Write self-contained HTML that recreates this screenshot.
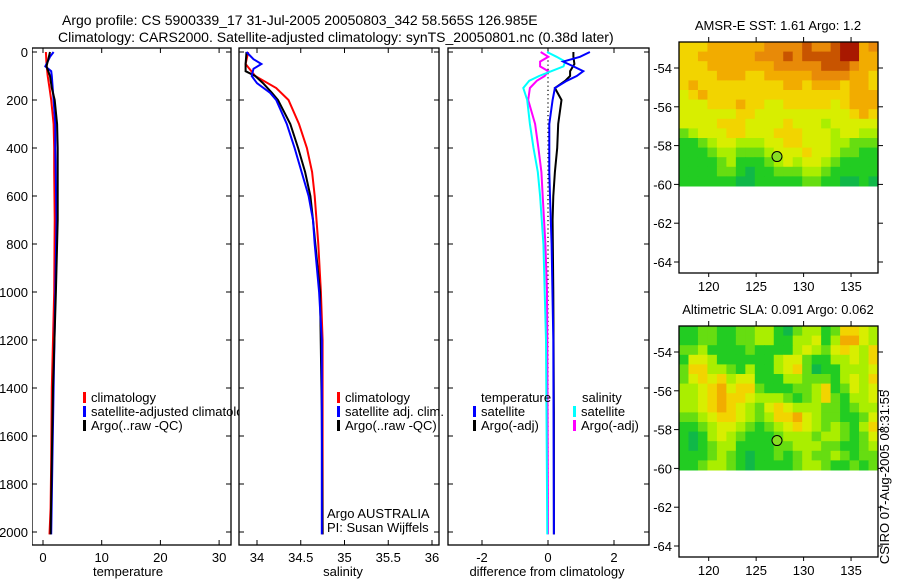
<!DOCTYPE html>
<html><head><meta charset="utf-8"><style>
html,body{margin:0;padding:0;background:#fff;}
svg{display:block;font-family:"Liberation Sans",sans-serif;}
text{fill:#000;}
</style></head><body>
<svg id="chart" width="900" height="580" viewBox="0 0 900 580">
<defs><clipPath id="clip1"><rect x="32" y="40" width="207" height="520"/></clipPath></defs>
<text x="62" y="25" font-size="14">Argo profile: CS 5900339_17 31-Jul-2005 20050803_342 58.565S 126.985E</text>
<text x="58" y="42" font-size="14">Climatology: CARS2000. Satellite-adjusted climatology: synTS_20050801.nc (0.38d later)</text>
<g id="g1" clip-path="url(#clip1)"></g>
<g id="g2"></g>
<g id="g3"></g>
<g id="m1"></g>
<g id="m2"></g>
<text transform="translate(889,477) rotate(-90)" text-anchor="middle" font-size="13">CSIRO 07-Aug-2005 08:31:55</text>
</svg>
<script>
// ---- profile data (depth in m) ----
const tClimD = [0,50,100,150,200,300,400,500,700,1000,1200,1400,1700,1900,2010];
const tClimV = [0.5,0.6,0.8,1.1,1.4,1.8,1.9,1.9,2.0,1.9,1.7,1.5,1.4,1.3,1.1];
const tSatD = [0,20,40,60,80,100,200,300,400,700,1000,1400,1700,2010];
const tSatV = [1.8,1.2,0.8,0.4,1.4,1.5,1.8,2.1,2.1,2.3,2.1,1.8,1.6,1.4];
const tArgoD = [0,30,60,100,150,200,300,400,700,1000,1400,1700,2010];
const tArgoV = [1.2,0.9,0.6,1.2,1.5,2.0,2.4,2.5,2.5,2.2,1.7,1.5,1.3];

const sClimD = [0,50,100,150,200,300,400,500,600,700,800,1000,1200,2010];
const sClimV = [33.90,33.87,33.98,34.22,34.36,34.48,34.57,34.63,34.66,34.68,34.70,34.73,34.75,34.75];
const sSatD = [0,30,50,70,100,130,170,200,300,400,500,600,700,800,1000,1200,2010];
const sSatV = [33.88,33.96,34.05,33.96,33.94,34.00,34.15,34.22,34.34,34.43,34.51,34.59,34.64,34.66,34.71,34.74,34.74];
const sArgoD = [0,50,80,100,130,170,200,300,400,500,600,700,1000,1500,2010];
const sArgoV = [33.88,33.87,33.87,33.98,34.07,34.17,34.24,34.38,34.47,34.55,34.61,34.64,34.72,34.74,34.75];

const dTArgoD = [0,20,50,80,100,120,150,200,300,400,500,600,700,1000,1500,2010];
const dTArgoV = [0.77,0.77,0.80,0.67,0.67,0.52,0.21,0.41,0.31,0.28,0.21,0.16,0.14,0.16,0.18,0.18];
const dTSatD = [0,20,40,60,80,100,120,150,200,300,500,600,800,1200,2010];
const dTSatV = [1.27,0.97,0.46,0.77,1.07,0.87,0.57,0.21,0.14,0.04,0.04,0.06,0.11,0.16,0.18];
const dSArgoD = [0,20,40,60,80,100,120,150,200,300,400,500,600,800,1000,1200,2010];
const dSArgoV = [-0.22,0.01,-0.24,-0.24,0.01,-0.10,-0.34,-0.55,-0.60,-0.39,-0.29,-0.20,-0.16,-0.08,-0.03,-0.02,0.0];
const dSSatD = [0,20,40,60,80,100,120,150,200,300,400,500,600,800,1000,1200,2010];
const dSSatV = [-0.03,0.26,0.52,0.47,0.10,-0.27,-0.57,-0.75,-0.63,-0.55,-0.44,-0.31,-0.24,-0.14,-0.10,-0.06,-0.02];

const depthTicks = [0,200,400,600,800,1000,1200,1400,1600,1800,2000];
const tTicks = [0,10,20,30];
const sTicks = [34,34.5,35,35.5,36];
const sTickLabels = ["34","34.5","35","35.5","36"];
const dTicks = [-2,0,2];

// ---- map data (digit levels, rows from -52.7 to -60.1, cols 117..137) ----
const sstRows = [
"555666666777787789967","556666667778788889966","555666666677777888766",
"555566655666667777665","565555555556656665665","456555555555555555666",
"444555655445555545666","444444554444444444565","444455544445444344444",
"234445544455544434433","112344333445544433222","111233222344454432211",
"111123111234344321111","111122101122233211111","111111001111122110010"];
const slaRows = [
"112211223310233125543","112211223311334136643","223111121111343245435",
"144311111134421133435","255332131134520113334","245453441113322213435",
"334564552111223512434","334565543332123521334","334565432454333221233",
"223455432355643221124","112344321234543232135","101343211123332332124",
"101233111122333221123","111232101121232232122","112332101111233211212"];
const lonTicks = [120,125,130,135];
const latTicks = [-54,-56,-58,-60,-62,-64];
const floatLon = 126.985, floatLat = -58.565;

const NS = "http://www.w3.org/2000/svg";
function mk(parent, tag, attrs, txt){const e=document.createElementNS(NS,tag);for(const k in attrs)e.setAttribute(k,attrs[k]);if(txt!==undefined)e.textContent=txt;parent.appendChild(e);return e;}
const yD = d => 52 + d*0.24;
const TOP=48, BOT=545;

function panel(g, x0, x1, xs, ticks, labels, xlabel, xlabelX, nameP){
  const r = mk(g,'rect',{x:x0,y:TOP,width:x1-x0,height:BOT-TOP,fill:'none',stroke:'#000','stroke-width':1.3});
  
  
  depthTicks.forEach(d=>{
    const y=yD(d);
    mk(g,'line',{x1:x0,y1:y,x2:x0+5,y2:y,stroke:'#000'});
    mk(g,'line',{x1:x1-5,y1:y,x2:x1,y2:y,stroke:'#000'});
  });
  ticks.forEach((t,i)=>{
    const x=xs(t);
    mk(g,'line',{x1:x,y1:TOP,x2:x,y2:TOP+5,stroke:'#000'});
    mk(g,'line',{x1:x,y1:BOT-5,x2:x,y2:BOT,stroke:'#000'});
    const tl = mk(g.parentNode===null?g:document.getElementById('chart'),'text',{x:x,y:562,'font-size':13,'text-anchor':'middle'},labels[i]);
    
    
  });
  const xl = mk(document.getElementById('chart'),'text',{x:xlabelX,y:576,'font-size':13,'text-anchor':'middle'},xlabel);
  
  
}
function line(g, D, V, xs, color, name, w){
  const pts = D.map((d,i)=>xs(V[i]).toFixed(1)+','+yD(d).toFixed(1)).join(' ');
  const p = mk(g,'polyline',{points:pts,fill:'none',stroke:color,'stroke-width':w||2,'stroke-linejoin':'miter'});
  
  
}
function legend(g, x, y, color, label, name){
  mk(g,'rect',{x:x,y:y-10,width:3,height:11,fill:color});
  const t = mk(g,'text',{x:x+8,y:y,'font-size':13},label);
  
  
}

const chart = document.getElementById('chart');
// y tick labels
depthTicks.forEach(d=>{
  const t = mk(chart,'text',{x:28,y:yD(d)+5,'font-size':13,'text-anchor':'end'},String(d));
  
  
});

// panel 1
const g1=document.getElementById('g1');
const xT = t => 43 + t*5.87;
panel(g1,32,231,xT,tTicks,tTicks.map(String),'temperature',128,'temperature');
line(g1,tClimD,tClimV,xT,'#ff0000','temp-climatology-line');
line(g1,tSatD,tSatV,xT,'#0000ff','temp-satellite-line');
line(g1,tArgoD,tArgoV,xT,'#000000','temp-argo-line');
legend(g1,83,402,'#ff0000','climatology','legend-climatology');
legend(g1,83,416,'#0000ff','satellite-adjusted climatology','legend-satellite-adjusted');
legend(g1,83,430,'#000000','Argo(..raw -QC)','legend-argo');

// panel 2
const g2=document.getElementById('g2');
const xS = s => 257 + (s-34)*87.5;
panel(g2,239,439,xS,sTicks,sTickLabels,'salinity',343,'salinity');
line(g2,sClimD,sClimV,xS,'#ff0000','sal-climatology-line');
line(g2,sArgoD,sArgoV,xS,'#000000','sal-argo-line');
line(g2,sSatD,sSatV,xS,'#0000ff','sal-satellite-line');
legend(g2,337,402,'#ff0000','climatology','legend-climatology');
legend(g2,337,416,'#0000ff','satellite adj. clim.','legend-satellite-adj');
legend(g2,337,430,'#000000','Argo(..raw -QC)','legend-argo');
mk(g2,'text',{x:327,y:518,'font-size':13},'Argo AUSTRALIA');
mk(g2,'text',{x:327,y:532,'font-size':13},'PI: Susan Wijffels');

// panel 3
const g3=document.getElementById('g3');
const xDf = v => 548 + v*33;
panel(g3,448,649,xDf,dTicks,dTicks.map(String),'difference from climatology',547,'difference');
mk(g3,'line',{x1:xDf(0),y1:yD(0),x2:xDf(0),y2:yD(2010),stroke:'#000','stroke-width':1.2,'stroke-dasharray':'1.2,3'});
line(g3,dSArgoD,dSArgoV,xDf,'#ff00ff','dsal-argo-line');
line(g3,dSSatD,dSSatV,xDf,'#00ffff','dsal-satellite-line');
line(g3,dTArgoD,dTArgoV,xDf,'#000000','dtemp-argo-line');
line(g3,dTSatD,dTSatV,xDf,'#0000ff','dtemp-satellite-line');
mk(g3,'text',{x:481,y:402,'font-size':13},'temperature');
mk(g3,'text',{x:582,y:402,'font-size':13},'salinity');
legend(g3,473,416,'#0000ff','satellite','legend-temp-satellite');
legend(g3,473,430,'#000000','Argo(-adj)','legend-temp-argo');
legend(g3,573,416,'#00ffff','satellite','legend-sal-satellite');
legend(g3,573,430,'#ff00ff','Argo(-adj)','legend-sal-argo');

// maps
const cmap = ['#10b848','#22cc22','#66dd11','#aaee00','#d8ee00','#f2d400','#f2ac00','#e88a08','#c85400','#a81800'];
function drawMap(g, rows, oy, title){
  const L=679, R=878, T=42+oy, B=273+oy, dataB=186+oy;
  const xL = lon => 708.7 + (lon-120)*9.49;
  const yL = lat => 68+oy + (-54-lat)*19.4;
  const nr=rows.length, nc=rows[0].length;
  const cw=(R-L)/nc, ch=(dataB-T)/nr;
  rows.forEach((row,r)=>{
    for(let c=0;c<nc;c++){
      const cell = mk(g,'rect',{x:(L+c*cw).toFixed(2),y:(T+r*ch).toFixed(2),width:(cw+0.5).toFixed(2),height:(ch+0.5).toFixed(2),fill:cmap[+row[c]]});
      
      
    }
  });
  const f=mk(g,'rect',{x:L,y:T,width:R-L,height:B-T,fill:'none',stroke:'#000','stroke-width':1.3});
  
  
  lonTicks.forEach(lon=>{
    const x=xL(lon);
    mk(g,'line',{x1:x,y1:T,x2:x,y2:T-5,stroke:'#000'});
    mk(g,'line',{x1:x,y1:B,x2:x,y2:B+4,stroke:'#000'});
    const t=mk(g,'text',{x:x,y:B+18,'font-size':13,'text-anchor':'middle'},String(lon));
    
    
  });
  latTicks.forEach(lat=>{
    const y=yL(lat);
    mk(g,'line',{x1:L-5,y1:y,x2:L,y2:y,stroke:'#000'});
    mk(g,'line',{x1:R,y1:y,x2:R+5,y2:y,stroke:'#000'});
    const t=mk(g,'text',{x:672,y:y+5,'font-size':13,'text-anchor':'end'},String(lat));
    
    
  });
  const c=mk(g,'circle',{cx:xL(floatLon)+2,cy:yL(floatLat),r:5,fill:'#88dd22',stroke:'#000','stroke-width':1});
  
  
  const tt=mk(g,'text',{x:778,y:T-12,'font-size':13,'text-anchor':'middle'},title);
  
  
}
drawMap(document.getElementById('m1'), sstRows, 0, 'AMSR-E SST: 1.61 Argo: 1.2');
drawMap(document.getElementById('m2'), slaRows, 284, 'Altimetric SLA: 0.091 Argo: 0.062');
</script>
</body></html>
